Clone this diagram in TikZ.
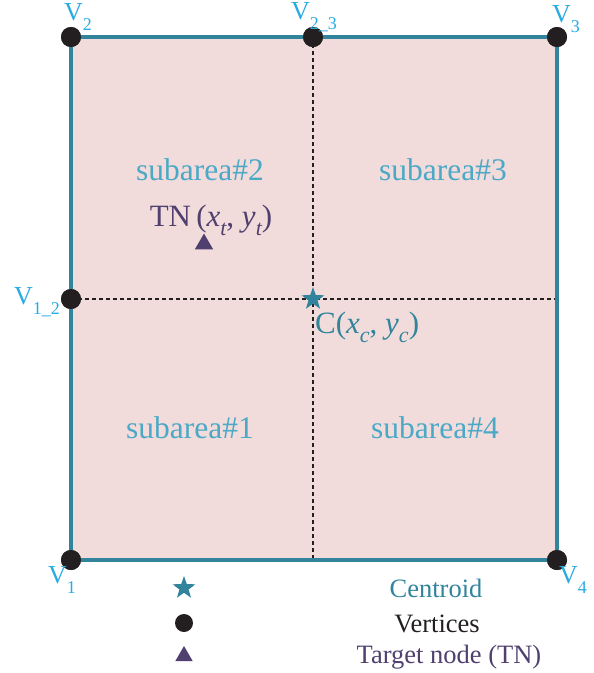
\documentclass[tikz,border=0pt]{standalone}
\usepackage{fontspec}
\setmainfont{Liberation Serif}
\usetikzlibrary{shapes.geometric}
\definecolor{vblue}{HTML}{29ABE2}
\definecolor{subc}{HTML}{4BA8C6}
\definecolor{teal}{HTML}{31849B}
\definecolor{pinkfill}{HTML}{F2DCDB}
\definecolor{tnpurple}{HTML}{4F406F}
\definecolor{dotblack}{HTML}{231F20}
\newcommand\lsub[1]{\raisebox{-0.4em}{\fontsize{18}{18}\selectfont #1}}
\newcommand\msub[1]{\raisebox{-0.3em}{\fontsize{22}{22}\selectfont\itshape #1}}
\tikzset{
  vdot/.style={circle,fill=dotblack,minimum size=20pt,inner sep=0pt},
  vlabel/.style={text=vblue,font=\fontsize{26}{28}\selectfont,inner sep=0pt},
  sublabel/.style={text=subc,font=\fontsize{31.5}{34}\selectfont,inner sep=0pt},
  mathlabel/.style={font=\fontsize{31}{34}\selectfont,inner sep=0pt},
  legtext/.style={font=\fontsize{26.5}{30}\selectfont,inner sep=0pt},
  starmark/.style={star,star points=5,star point ratio=2.5,fill=teal,minimum size=24pt,inner sep=0pt},
  trimark/.style={regular polygon,regular polygon sides=3,fill=tnpurple,minimum size=21pt,inner sep=0pt},
  divline/.style={dash pattern=on 4pt off 3pt,line width=2.5pt,dotblack},
  border/.style={draw=teal,line width=4.5pt}
}
\begin{document}
\begin{tikzpicture}[x=1pt,y=-1pt]
\useasboundingbox (0,0) rectangle (594,673);
\fill[pinkfill] (71,37) rectangle (557,560);
\coordinate (bot) at (313,560);
\coordinate (rgt) at (557,299);
\node[vdot] (v1) at (71,560) {};
\node[vdot] (v2) at (71,37) {};
\node[vdot] (v3) at (557,37) {};
\node[vdot] (v4) at (557,560) {};
\node[vdot] (v23) at (313,37) {};
\node[vdot] (v12) at (71,299) {};
\draw[divline] (v23.center) -- (bot);
\draw[divline] (v12.center) -- (rgt);
\draw[border] (v1.center) -- (v2.center) -- (v3.center) -- (v4.center) -- cycle;
\node[vdot] at (v1) {};
\node[vdot] at (v2) {};
\node[vdot] at (v3) {};
\node[vdot] at (v4) {};
\node[vdot] at (v23) {};
\node[vdot] at (v12) {};
\node[starmark] (c) at (313,299) {};
% vertex labels
\node[vlabel] (l2) at (78,17) {V\lsub{2}};
\node[vlabel] (l3) at (566,19) {V\lsub{3}};
\node[vlabel] (l23) at (314,17) {V\lsub{2\_3}};
\node[vlabel] (l12) at (37,302) {V\lsub{1\_2}};
\node[vlabel] (l1) at (62,580) {V\lsub{1}};
\node[vlabel] (l4) at (573,580) {V\lsub{4}};
% subareas
\node[sublabel] (s2) at (200,170) {subarea\#2};
\node[sublabel] (s3) at (443,170) {subarea\#3};
\node[sublabel] (s1) at (190,428) {subarea\#1};
\node[sublabel] (s4) at (435,428) {subarea\#4};
% TN
\node[mathlabel,text=tnpurple] (tn) at (211,220) {TN\,(\textit{x}\msub{t}, \textit{y}\msub{t})};
\node[trimark] (tri) at (204,244) {};
% centroid label
\node[mathlabel,text=teal,anchor=west] (cl) at (315,327) {C(\textit{x}\msub{c}, \textit{y}\msub{c})};
% legend
\node[starmark] (lstar) at (184,588) {};
\node[vdot,minimum size=18pt] (ldot) at (184,623) {};
\node[trimark,minimum size=20pt] (ltri) at (184,656) {};
\node[legtext,text=teal] (lt1) at (436,588) {Centroid};
\node[legtext,text=dotblack] (lt2) at (437,624) {Vertices};
\node[legtext,text=tnpurple] (lt3) at (449,657) {Target node (TN)};
\end{tikzpicture}
\end{document}
